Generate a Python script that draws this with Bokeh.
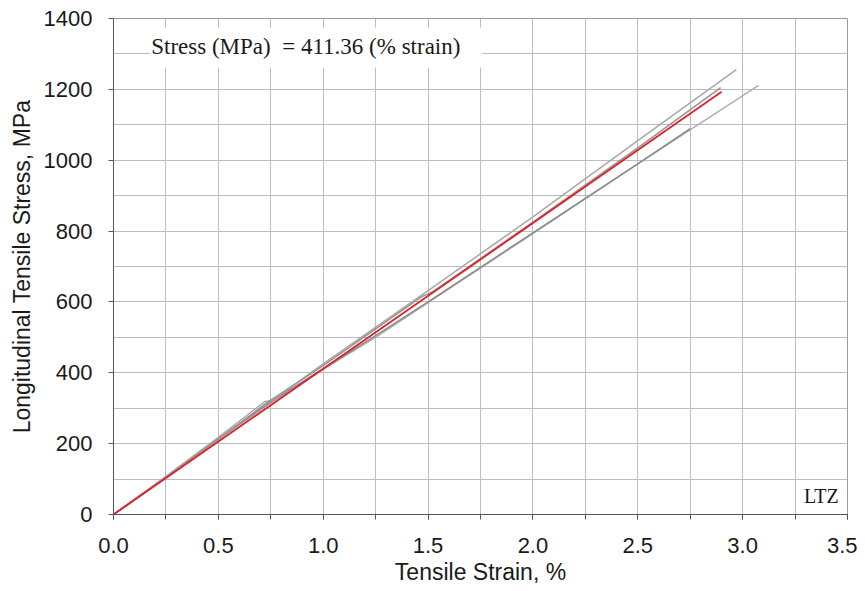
from bokeh.plotting import figure
from bokeh.models import Range1d, SingleIntervalTicker, PrintfTickFormatter
from bokeh.core.properties import value
from bokeh.embed import file_html
from bokeh.resources import INLINE

# ---- data ----
spec_a_strain = [0.0, 0.25, 0.50, 0.72, 0.76, 1.00, 1.50, 2.00, 2.50, 2.97]
spec_a_stress = [0, 108, 218, 318, 323, 425, 632, 840, 1055, 1256]

spec_b_strain = [0.0, 0.25, 0.50, 0.73, 1.00, 1.47, 1.52, 2.00, 2.50, 2.895]
spec_b_stress = [0, 105, 213, 315, 420, 615, 628, 825, 1035, 1205]

spec_c_strain = [0.0, 0.25, 0.50, 0.75, 1.00, 1.25, 1.50, 2.00, 2.50, 3.076]
spec_c_stress = [0, 104, 212, 315, 410, 500, 598, 793, 990, 1211]

spec_d_strain = [0.0, 0.25, 0.50, 0.75, 1.00, 1.25, 1.50, 2.00, 2.50, 2.75]
spec_d_stress = [0, 106, 214, 318, 412, 505, 600, 795, 990, 1089]

fit_modulus = 411.36
fit_strain = [0.0, 2.90]
fit_stress = [fit_modulus * s for s in fit_strain]

equation_label = "Stress (MPa)\u00a0\u00a0= 411.36 (% strain)"
corner_label = "LTZ"

x_label = "Tensile Strain, %"
y_label = "Longitudinal Tensile Stress, MPa"

# ---- figure ----
p = figure(width=857, height=591, output_backend="svg", toolbar_location=None,
           x_range=Range1d(0, 3.5), y_range=Range1d(0, 1400),
           min_border_left=113, min_border_right=10, min_border_top=18, min_border_bottom=77)

p.outline_line_color = "#9a9a9a"
p.outline_line_width = 1
p.background_fill_color = "white"

p.xaxis.ticker = SingleIntervalTicker(interval=0.5, num_minor_ticks=2)
p.yaxis.ticker = SingleIntervalTicker(interval=200, num_minor_ticks=2)
p.xaxis.formatter = PrintfTickFormatter(format="%.1f")

for ax in (p.xaxis[0], p.yaxis[0]):
    ax.axis_line_color = "#555555"
    ax.major_tick_line_color = "#555555"
    ax.minor_tick_line_color = "#555555"
    ax.major_tick_in = 0
    ax.major_tick_out = 5
    ax.minor_tick_in = 0
    ax.major_label_text_font = "Liberation Sans"
    ax.major_label_text_font_size = "22px"
    ax.major_label_text_color = "#1a1a1a"
    ax.axis_label_text_font = "Liberation Sans"
    ax.axis_label_text_font_size = "23px"
    ax.axis_label_text_font_style = "normal"
    ax.axis_label_text_color = "#1a1a1a"

p.xaxis.minor_tick_out = 5
p.yaxis.minor_tick_out = 0
p.xaxis.major_label_standoff = 18
p.yaxis.major_label_standoff = 16
p.xaxis.axis_label_standoff = 3
p.yaxis.axis_label_standoff = 6
p.xaxis.axis_label = x_label
p.yaxis.axis_label = y_label

for g in (p.xgrid[0], p.ygrid[0]):
    g.grid_line_color = "#bdbdbd"
    g.grid_line_width = 1
    g.minor_grid_line_color = "#bdbdbd"
    g.minor_grid_line_width = 1

# specimen curves
p.line(spec_c_strain, spec_c_stress, line_color="#b0b0b0", line_width=1.5)
p.line(spec_d_strain, spec_d_stress, line_color="#8a8a8a", line_width=1.5)
p.line(spec_a_strain, spec_a_stress, line_color="#a8a8a8", line_width=1.5)
p.line(spec_b_strain, spec_b_stress, line_color="#959595", line_width=1.5)
# fitted line
p.line(fit_strain, fit_stress, line_color="#e0202a", line_width=1.8)

# equation box and text
p.quad(left=[0.176], right=[1.755], bottom=[1262], top=[1374],
       fill_color="white", line_color=None)
p.text(x=[0.18], y=[1322], text=[equation_label], text_font=value("Liberation Serif"),
       text_font_size=value("23px"), text_color="#1a1a1a",
       text_align="left", text_baseline="middle")

p.text(x=[3.458], y=[52], text=[corner_label], text_font=value("Liberation Serif"),
       text_font_size=value("20px"), text_color="#1a1a1a",
       text_align="right", text_baseline="middle")

open("out.html", "w").write(file_html(p, INLINE))
